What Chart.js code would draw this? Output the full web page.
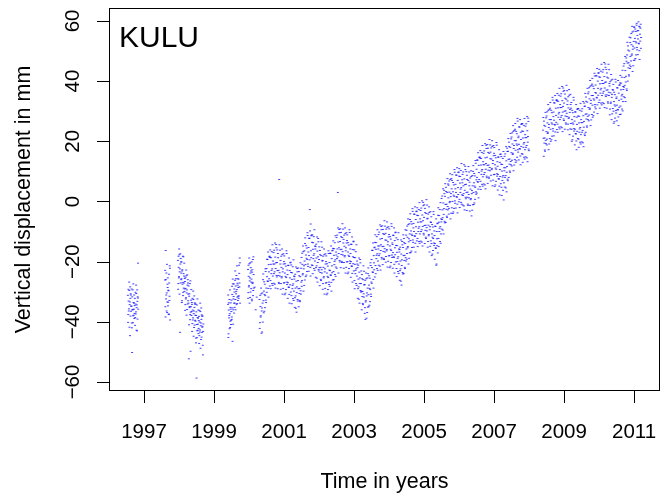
<!DOCTYPE html>
<html>
<head>
<meta charset="utf-8">
<script src="https://cdn.jsdelivr.net/npm/chart.js@4"></script>
<style>
  html, body { margin: 0; padding: 0; background: #fff; }
  #wrap { width: 662px; height: 496px; }
</style>
</head>
<body>
<div id="wrap"><canvas id="grafica" width="662" height="496"></canvas></div>
<script>
// tick labels
const xTicks = [1997, 1999, 2001, 2003, 2005, 2007, 2009, 2011];
const yTicks = [-60, -40, -20, 0, 20, 40, 60];

// GPS segments: first epoch (decimal year) and sampling interval (years)
const segStart = [1996.54, 1997.60, 1997.97, 1999.40, 1999.97, 2000.16,
  2000.30, 2004.00, 2008.40, 2000.30625, 2004.00625, 2008.40625,
  1996.545, 1997.605, 1997.975, 1999.405, 1999.975];
const segStep  = [0.01, 0.01, 0.01, 0.01, 0.01, 0.03,
  0.0125, 0.0125, 0.0125, 0.0125, 0.0125, 0.0125,
  0.01, 0.01, 0.01, 0.01, 0.01];

// vertical displacement in mm
const kulu1996 = [-31.2,-37.6,-33.1,-35.7,-29.6,-34.3,-44.6,-32.2,-30.7,-36.5,
  -34.8,-40.4,-50.2,-36.1,-29.4,-38.0,-33.6,-35.8,-31.1,-37.2,
  -32.2,-38.6,-34.1,-36.7,-30.6,-35.3,-43.0,-33.2,-31.7,-20.5];
const kulu1997 = [-26.1,-35.0,-16.3,-32.4,-23.8,-30.4,-36.9,-27.5,-25.4,-33.5,-29.7,-37.6,-27.1,-31.5,-22.2];
const kulu1998 = [-19.6,-27.3,-21.9,-25.0,-17.7,-23.4,-43.5,-20.8,-19.0,-26.0,
  -25.7,-33.6,-23.1,-27.5,-18.2,-30.2,-24.0,-27.1,-20.5,-29.1,
  -26.6,-34.3,-28.9,-32.0,-24.7,-30.4,-35.9,-27.8,-26.0,-33.0,
  -33.8,-52.3,-31.5,-35.3,-27.3,-37.6,-49.8,-35.0,-29.3,-36.6,
  -34.2,-40.6,-36.1,-38.7,-32.6,-37.3,-41.9,-35.2,-33.7,-39.5,
  -39.8,-45.4,-37.9,-58.7,-34.4,-43.0,-38.6,-40.8,-36.1,-42.2,
  -38.2,-44.6,-40.1,-42.7,-36.6,-41.3,-45.9,-39.2,-37.7,-43.5,
  -41.5,-47.8,-43.2];
const kulu1999 = [-34.2,-45.2,-36.1,-38.7,-32.6,-37.3,-41.9,-35.2,-33.7,-39.5,
  -32.8,-38.4,-30.9,-46.5,-27.4,-36.0,-31.6,-33.8,-29.1,-35.2,
  -26.2,-32.6,-28.1,-30.7,-24.6,-29.3,-33.9,-27.2,-25.7,-31.5,
  -25.8,-31.4,-23.9,-27.1,-20.4];
const kulu2000a = [-22.6,-30.3,-24.9,-28.0,-20.7,-26.4,-31.9,-23.8,-22.0,-29.0,-25.8,-32.5,-23.5,-27.3,-19.3,-29.6,-24.3];
const kulu2000b = [-28.5,-36.0,-31.8];
const kulu2000c = [
  -32.6,-40.3,-34.9,-38.0,-30.7,-36.4,-43.4,-33.8,
  -26.0,-33.0,-29.8,-36.5,-27.5,-31.3,-23.3,-33.6,
  -22.3,-25.0,-19.3,-26.6,-28.9,-21.0,-25.7,-18.2,
  -18.6,-26.3,-20.9,-24.0,-16.7,-22.4,-27.9,-19.8,
  -17.0,-24.0,-20.8,-27.5,-18.5,-22.3,-14.3,-24.6,
  -20.3,-23.0,-17.3,-24.6,-26.9,7.3,-23.7,-16.2,
  -19.6,-27.3,-21.9,-25.0,-17.7,-23.4,-28.9,-20.8,
  -20.0,-27.0,-23.8,-30.5,-21.5,-25.3,-17.3,-27.6,
  -24.3,-27.0,-21.3,-28.6,-30.9,-23.0,-27.7,-20.2,
  -23.6,-31.3,-25.9,-29.0,-21.7,-27.4,-32.9,-24.8,
  -25.0,-32.0,-28.8,-35.5,-26.5,-30.3,-22.3,-32.6,
  -26.3,-29.0,-23.3,-30.6,-32.9,-25.0,-29.7,-22.2,
  -18.6,-26.3,-20.9,-24.0,-16.7,-22.4,-27.9,-19.8,
  -14.0,-21.0,-17.8,-24.5,-15.5,-19.3,-11.3,-21.6,
  -15.3,-18.0,-12.3,-2.7,-21.9,-7.5,-18.7,-11.2,
  -13.6,-21.3,-15.9,-19.0,-11.7,-17.4,-22.9,-14.8,
  -15.0,-22.0,-18.8,-25.5,-16.5,-20.3,-12.3,-22.6,
  -19.3,-22.0,-16.3,-23.6,-25.9,-18.0,-22.7,-15.2,
  -19.6,-27.3,-21.9,-25.0,-17.7,-23.4,-28.9,-20.8,
  -20.0,-27.0,-23.8,-30.5,-21.5,-25.3,-17.3,-27.6,
  -20.3,-23.0,-17.3,-24.6,-26.9,-19.0,-23.7,-16.2,
  -15.6,-23.3,-17.9,-21.0,-13.7,-19.4,-24.9,-16.8,
  -12.0,-19.0,-15.8,3.0,-13.5,-17.3,-9.3,-19.6,
  -13.3,-16.0,-10.3,-17.6,-19.9,-12.0,-16.7,-9.2,
  -12.6,-20.3,-14.9,-18.0,-10.7,-16.4,-21.9,-13.8,
  -13.0,-20.0,-16.8,-23.5,-14.5,-18.3,-10.3,-20.6,
  -17.3,-20.0,-14.3,-21.6,-23.9,-16.0,-20.7,-13.2,
  -18.6,-26.3,-20.9,-24.0,-16.7,-22.4,-27.9,-19.8,
  -22.0,-29.0,-25.8,-32.5,-23.5,-27.3,-19.3,-29.6,
  -27.3,-30.0,-24.3,-31.6,-33.9,-26.0,-30.7,-23.2,
  -27.6,-35.3,-39.2,-33.0,-25.7,-31.4,-36.9,-28.8,
  -24.0,-31.0,-27.8,-34.5,-25.5,-29.3,-21.3,-31.6,
  -19.3,-22.0,-16.3,-23.6,-25.9,-18.0,-22.7,-15.2,
  -13.6,-21.3,-15.9,-19.0,-11.7,-17.4,-22.9,-14.8,
  -11.0,-18.0,-14.8,-21.5,-12.5,-16.3,-8.3,-18.6,
  -12.3,-15.0,-9.3,-16.6,-18.9,-11.0,-15.7,-8.2,
  -10.6,-18.3,-12.9,-16.0,-8.7,-14.4,-19.9,-11.8];
const kulu2004 = [
  -11.0,-18.0,-14.8,-21.5,-12.5,-16.3,-8.3,-18.6,
  -14.3,-17.0,-11.3,-18.6,-20.9,-13.0,-17.7,-10.2,
  -14.6,-22.3,-16.9,-20.0,-12.7,-18.4,-23.9,-15.8,
  -16.0,-23.0,-19.8,-26.5,-17.5,-21.3,-13.3,-23.6,
  -15.3,-18.0,-12.3,-19.6,-21.9,-14.0,-18.7,-11.2,
  -9.6,-17.3,-11.9,-15.0,-7.7,-13.4,-18.9,-10.8,
  -6.0,-13.0,-9.8,-16.5,-7.5,-11.3,-3.3,-13.6,
  -7.3,-10.0,-4.3,-11.6,-13.9,-6.0,-10.7,-3.2,
  -4.6,-12.3,-6.9,-10.0,-2.7,-8.4,-13.9,-5.8,
  -3.0,-10.0,-6.8,-13.5,-4.5,-8.3,-0.3,-10.6,
  -5.3,-8.0,-2.3,-9.6,-11.9,-4.0,-8.7,-1.2,
  -5.6,-13.3,-7.9,-11.0,-3.7,-9.4,-14.9,-6.8,
  -7.0,-14.0,-10.8,-17.5,-8.5,-12.3,-4.3,-14.6,
  -11.3,-14.0,-8.3,-15.6,-21.2,-10.0,-14.7,-7.2,
  -4.6,-12.3,-6.9,-10.0,-2.7,-8.4,-13.9,-5.8,
  1.0,-6.0,-2.8,-9.5,-0.5,-4.3,3.7,-6.6,
  1.7,-1.0,4.7,-2.6,-4.9,3.0,-1.7,5.8,
  5.4,-2.3,3.1,0.0,7.3,1.6,-3.9,4.2,
  7.0,0.0,3.2,-3.5,5.5,1.7,9.7,-0.6,
  5.7,3.0,8.7,1.4,-0.9,7.0,2.3,9.8,
  8.4,0.7,6.1,3.0,10.3,4.6,-0.9,7.2,
  9.0,2.0,5.2,-1.5,7.5,3.7,11.7,1.4,
  5.7,3.0,8.7,1.4,-0.9,7.0,2.3,9.8,
  6.4,-1.3,4.1,1.0,8.3,2.6,-2.9,5.2,
  10.0,3.0,6.2,-0.5,8.5,4.7,12.7,2.4,
  10.7,8.0,13.7,6.4,4.1,12.0,7.3,14.8,
  14.4,6.7,12.1,9.0,16.3,10.6,5.1,13.2,
  16.0,9.0,12.2,5.5,14.5,10.7,18.7,8.4,
  14.7,12.0,17.7,10.4,8.1,16.0,11.3,18.8,
  16.4,8.7,14.1,11.0,18.3,12.6,7.1,15.2,
  16.0,9.0,12.2,5.5,14.5,10.7,18.7,8.4,
  11.7,9.0,14.7,7.4,5.1,13.0,8.3,15.8,
  12.4,4.7,10.1,7.0,14.3,8.6,0.5,11.2,
  15.0,8.0,11.2,4.5,13.5,9.7,17.7,7.4,
  16.7,14.0,19.7,12.4,10.1,18.0,13.3,20.8,
  21.4,13.7,19.1,16.0,23.3,17.6,12.1,20.2,
  24.0,17.0,20.2,13.5,22.5,18.7,26.7,16.4,
  21.7,19.0,24.7,17.4,15.1,23.0,18.3,25.8,
  23.4,15.7,21.1,18.0,25.3,19.6,14.1,22.2,
  25.0,18.0,21.2,14.5,23.5,19.7,27.7,17.4];
const kulu2008 = [
  23.7,21.0,26.7,19.4,17.1,25.0,20.3,27.8,
  28.4,20.7,26.1,23.0,30.3,24.6,19.1,27.2,
  31.0,24.0,27.2,20.5,29.5,25.7,33.7,23.4,
  29.7,27.0,32.7,25.4,23.1,31.0,26.3,33.8,
  33.4,25.7,31.1,28.0,35.3,29.6,24.1,32.2,
  35.0,28.0,31.2,24.5,33.5,29.7,37.7,27.4,
  32.7,30.0,35.7,28.4,26.1,34.0,29.3,36.8,
  33.4,25.7,31.1,28.0,35.3,29.6,24.1,32.2,
  31.0,24.0,27.2,20.5,29.5,25.7,33.7,23.4,
  26.7,24.0,29.7,22.4,20.1,28.0,23.3,30.8,
  28.4,20.7,26.1,23.0,30.3,24.6,19.1,27.2,
  30.0,23.0,26.2,19.5,28.5,24.7,32.7,22.4,
  31.7,29.0,34.7,27.4,25.1,33.0,28.3,35.8,
  36.4,28.7,34.1,31.0,38.3,32.6,27.1,35.2,
  39.0,32.0,35.2,28.5,37.5,33.7,41.7,31.4,
  38.7,36.0,41.7,34.4,32.1,40.0,35.3,42.8,
  41.4,33.7,39.1,36.0,43.3,37.6,32.1,40.2,
  43.0,36.0,39.2,32.5,41.5,37.7,45.7,35.4,
  39.7,37.0,42.7,35.4,33.1,41.0,36.3,43.8,
  38.4,30.7,36.1,33.0,40.3,34.6,29.1,37.2,
  37.0,30.0,33.2,26.5,35.5,31.7,39.7,29.4,
  34.7,32.0,37.7,30.4,28.1,36.0,31.3,38.8,
  39.4,31.7,37.1,34.0,41.3,35.6,30.1,38.2,
  45.0,38.0,41.2,34.5,43.5,39.7,47.7,37.4,
  48.7,46.0,51.7,44.4,42.1,50.0,45.3,52.8,
  54.4,46.7,52.1,49.0,56.3,50.6,45.1,53.2,
  58.0,51.0,54.2,47.5,56.5,52.7,59.2,50.4,
  56.7,54.0,59.7,52.4,50.1,58.0,53.3,58.9,
  54.5];
// second daily track (interleaved epochs)
const kulu2000d = [
  -42.2,-31.2,-38.4,-28.8,-43.8,-35.4,-30.4,-40.1,
  -24.1,-37.0,-26.7,-30.9,-35.3,-22.4,-32.8,-28.8,
  -30.2,-19.2,-26.4,-16.8,-31.8,-23.4,-18.4,-28.1,
  -16.1,-29.0,-18.7,-22.9,-27.3,-14.4,-24.8,-20.8,
  -27.2,-16.2,-23.4,-13.8,-28.8,-20.4,-15.4,-25.1,
  -16.1,-29.0,-18.7,-22.9,-27.3,-14.4,-24.8,-20.8,
  -29.2,-18.2,-25.4,-15.8,-30.8,-22.4,-17.4,-27.1,
  -18.1,-31.0,-20.7,-24.9,-29.3,-16.4,-26.8,-22.8,
  -32.2,-21.2,-28.4,-18.8,-33.8,-25.4,-20.4,-30.1,
  -21.1,-34.0,-23.7,-27.9,-32.3,-19.4,-29.8,-25.8,
  -35.2,-24.2,-31.4,-21.8,-36.8,-28.4,-23.4,-33.1,
  -22.1,-35.0,-24.7,-28.9,-33.3,-20.4,-30.8,-26.8,
  -28.2,-17.2,-24.4,-14.8,-29.8,-21.4,-16.4,-26.1,
  -12.1,-25.0,-14.7,-18.9,-23.3,-10.4,-20.8,-16.8,
  -23.2,-12.2,-19.4,-9.8,-24.8,-16.4,-11.4,-21.1,
  -11.1,-24.0,-13.7,-17.9,-22.3,-9.4,-19.8,-15.8,
  -25.2,-14.2,-21.4,-11.8,-26.8,-18.4,-13.4,-23.1,
  -15.1,-28.0,-17.7,-21.9,-26.3,-13.4,-23.8,-19.8,
  -29.2,-18.2,-25.4,-15.8,-30.8,-22.4,-17.4,-27.1,
  -18.1,-31.0,-20.7,-24.9,-29.3,-16.4,-26.8,-22.8,
  -28.2,-17.2,-24.4,-14.8,-29.8,-21.4,-16.4,-26.1,
  -13.1,-26.0,-15.7,-19.9,-24.3,-11.4,-21.8,-17.8,
  -22.2,-11.2,-18.4,-8.8,-23.8,-15.4,-10.4,-20.1,
  -9.1,-22.0,-11.7,-15.9,-20.3,-7.4,-17.8,-13.8,
  -22.2,-11.2,-18.4,-8.8,-23.8,-15.4,-10.4,-20.1,
  -11.1,-24.0,-13.7,-17.9,-22.3,-9.4,-19.8,-15.8,
  -25.2,-14.2,-21.4,-11.8,-26.8,-18.4,-13.4,-23.1,
  -16.1,-29.0,-18.7,-22.9,-27.3,-14.4,-24.8,-20.8,
  -32.2,-21.2,-28.4,-18.8,-33.8,-25.4,-20.4,-30.1,
  -23.1,-36.0,-25.7,-29.9,-34.3,-21.4,-31.8,-27.8,
  -37.2,-26.2,-33.4,-23.8,-38.8,-30.4,-25.4,-35.1,
  -22.1,-35.0,-24.7,-28.9,-33.3,-20.4,-30.8,-26.8,
  -27.2,-16.2,-23.4,-13.8,-28.8,-20.4,-15.4,-25.1,
  -11.1,-24.0,-13.7,-17.9,-22.3,-9.4,-19.8,-15.8,
  -21.2,-10.2,-17.4,-7.8,-22.8,-14.4,-9.4,-19.1,
  -8.1,-21.0,-10.7,-14.9,-19.3,-6.4,-16.8,-12.8,
  -20.2,-9.2,-16.4,-6.8,-21.8,-13.4,-8.4,-18.1];
const kulu2004d = [
  -9.1,-22.0,-11.7,-15.9,-20.3,-7.4,-17.8,-13.8,
  -22.2,-11.2,-18.4,-8.8,-23.8,-15.4,-10.4,-20.1,
  -12.1,-25.0,-14.7,-18.9,-23.3,-10.4,-20.8,-16.8,
  -26.2,-15.2,-22.4,-12.8,-27.8,-19.4,-14.4,-24.1,
  -11.1,-24.0,-13.7,-17.9,-22.3,-9.4,-19.8,-15.8,
  -19.2,-8.2,-15.4,-5.8,-20.8,-12.4,-7.4,-17.1,
  -4.1,-17.0,-6.7,-10.9,-15.3,-2.4,-12.8,-8.8,
  -15.2,-4.2,-11.4,-1.8,-16.8,-8.4,-3.4,-13.1,
  -2.1,-15.0,-4.7,-8.9,-13.3,-0.4,-10.8,-6.8,
  -13.2,-2.2,-9.4,0.2,-14.8,-6.4,-1.4,-11.1,
  -1.1,-14.0,-3.7,-7.9,-12.3,0.6,-9.8,-5.8,
  -15.2,-4.2,-11.4,-1.8,-16.8,-8.4,-3.4,-13.1,
  -5.1,-18.0,-7.7,-11.9,-16.3,-3.4,-13.8,-9.8,
  -19.2,-8.2,-15.4,-5.8,-20.8,-12.4,-7.4,-17.1,
  -2.1,-15.0,-4.7,-8.9,-13.3,-0.4,-10.8,-6.8,
  -9.2,1.8,-5.4,4.2,-10.8,-2.4,2.6,-7.1,
  5.9,-7.0,3.3,-0.9,-5.3,7.6,-2.8,1.2,
  -4.2,6.8,-0.4,9.2,-5.8,2.6,7.6,-2.1,
  8.9,-4.0,6.3,2.1,-2.3,10.6,0.2,4.2,
  -2.2,8.8,1.6,11.2,-3.8,4.6,9.6,-0.1,
  10.9,-2.0,8.3,4.1,-0.3,12.6,2.2,6.2,
  -1.2,9.8,2.6,12.2,-2.8,5.6,10.6,0.9,
  9.9,-3.0,7.3,3.1,-1.3,11.6,1.2,5.2,
  -3.2,7.8,0.6,10.2,-4.8,3.6,8.6,-1.1,
  11.9,-1.0,9.3,5.1,0.7,13.6,3.2,7.2,
  2.8,13.8,6.6,16.2,1.2,9.6,14.6,4.9,
  16.9,4.0,14.3,10.1,5.7,18.6,8.2,12.2,
  5.8,16.8,9.6,19.2,4.2,12.6,17.6,7.9,
  18.9,6.0,16.3,12.1,7.7,20.6,10.2,14.2,
  6.8,17.8,10.6,20.2,5.2,13.6,18.6,8.9,
  17.9,5.0,15.3,11.1,6.7,19.6,9.2,13.2,
  3.8,14.8,7.6,17.2,2.2,10.6,15.6,5.9,
  14.9,2.0,12.3,8.1,3.7,16.6,6.2,10.2,
  4.8,15.8,8.6,18.2,3.2,11.6,16.6,6.9,
  20.9,8.0,18.3,14.1,9.7,22.6,12.2,16.2,
  11.8,22.8,15.6,25.2,10.2,18.6,23.6,13.9,
  25.9,13.0,23.3,19.1,14.7,27.6,17.2,21.2,
  13.8,24.8,17.6,27.2,12.2,20.6,25.6,15.9,
  25.9,13.0,23.3,19.1,14.7,27.6,17.2,21.2,
  14.8,25.8,18.6,28.2,13.2,21.6,26.6,16.9];
const kulu2008d = [
  27.9,15.0,25.3,21.1,16.7,29.6,19.2,23.2,
  18.8,29.8,22.6,32.2,17.2,25.6,30.6,20.9,
  32.9,20.0,30.3,26.1,21.7,34.6,24.2,28.2,
  21.8,32.8,25.6,35.2,20.2,28.6,33.6,23.9,
  35.9,23.0,33.3,29.1,24.7,37.6,27.2,31.2,
  24.8,35.8,28.6,38.2,23.2,31.6,36.6,26.9,
  36.9,24.0,34.3,30.1,25.7,38.6,28.2,32.2,
  23.8,34.8,27.6,37.2,22.2,30.6,35.6,25.9,
  32.9,20.0,30.3,26.1,21.7,34.6,24.2,28.2,
  18.8,29.8,22.6,32.2,17.2,25.6,30.6,20.9,
  30.9,18.0,28.3,24.1,19.7,32.6,22.2,26.2,
  19.8,30.8,23.6,33.2,18.2,26.6,31.6,21.9,
  35.9,23.0,33.3,29.1,24.7,37.6,27.2,31.2,
  26.8,37.8,30.6,40.2,25.2,33.6,38.6,28.9,
  40.9,28.0,38.3,34.1,29.7,42.6,32.2,36.2,
  30.8,41.8,34.6,44.2,29.2,37.6,42.6,32.9,
  43.9,31.0,41.3,37.1,32.7,45.6,35.2,39.2,
  32.8,43.8,36.6,46.2,31.2,39.6,44.6,34.9,
  43.9,31.0,41.3,37.1,32.7,45.6,35.2,39.2,
  28.8,39.8,32.6,42.2,27.2,35.6,40.6,30.9,
  38.9,26.0,36.3,32.1,27.7,40.6,30.2,34.2,
  26.8,37.8,30.6,40.2,25.2,33.6,38.6,28.9,
  41.9,29.0,39.3,35.1,30.7,43.6,33.2,37.2,
  34.8,45.8,38.6,48.2,33.2,41.6,46.6,36.9,
  52.9,40.0,50.3,46.1,41.7,54.6,44.2,48.2,
  44.8,55.8,48.6,58.2,43.2,51.6,56.6,46.9,
  57.9,47.0,57.3,53.1,48.7,58.6,51.2,55.2,
  48.8,56.8,52.6,58.2,47.2,55.6,57.6,50.9];
const kulu1996d = [-40.2,-29.2,-36.4,-26.8,-41.8,-33.4,-28.4,-38.1,-31.1,-34.8,
  -29.1,-42.0,-31.7,-35.9,-40.3,-27.4,-37.8,-33.8,-38.9,-34.6,
  -41.2,-30.2,-37.4,-27.8,-42.8,-34.4,-29.4,-39.1,-32.1,-35.8];
const kulu1997d = [-22.9,-38.4,-26.0,-31.1,-36.4,-20.9,-33.4,-28.6,-34.7,-29.5,-37.4,-24.2,-32.9,-21.4,-39.4];
const kulu1998d = [-29.2,-18.2,-25.4,-15.8,-30.8,-22.4,-17.4,-27.1,-20.1,-23.8,
  -20.1,-33.0,-22.7,-26.9,-31.3,-18.4,-28.8,-24.8,-29.9,-25.6,
  -36.2,-25.2,-32.4,-22.8,-37.8,-29.4,-24.4,-34.1,-27.1,-30.8,
  -28.1,-41.0,-30.7,-34.9,-39.3,-26.4,-36.8,-32.8,-37.9,-33.6,
  -43.2,-32.2,-39.4,-29.8,-44.8,-36.4,-31.4,-41.1,-34.1,-37.8,
  -34.1,-47.0,-36.7,-40.9,-45.3,-32.4,-42.8,-38.8,-43.9,-39.6,
  -47.2,-36.2,-43.4,-33.8,-48.8,-40.4,-35.4,-45.1,-38.1,-41.8,
  -38.1,-51.0,-40.7];
const kulu1999d = [-31.1,-44.0,-33.7,-37.9,-42.3,-29.4,-39.8,-35.8,-40.9,-36.6,
  -39.2,-28.2,-35.4,-25.8,-40.8,-32.4,-27.4,-37.1,-30.1,-33.8,
  -23.1,-36.0,-25.7,-29.9,-34.3,-21.4,-31.8,-27.8,-32.9,-28.6,
  -32.2,-21.2,-28.4,-18.8,-33.8];
const kulu2000e = [-32.2,-21.2,-28.4,-18.8,-33.8,-25.4,-20.4,-30.1,-23.1,-26.8,
  -20.1,-33.0,-22.7,-26.9,-31.3,-18.4,-28.8];

const segValues = [kulu1996, kulu1997, kulu1998, kulu1999, kulu2000a, kulu2000b,
  kulu2000c, kulu2004, kulu2008, kulu2000d, kulu2004d, kulu2008d,
  kulu1996d, kulu1997d, kulu1998d, kulu1999d, kulu2000e];

// armar los puntos (tiempo, desplazamiento)
const puntos = [];
for (let s = 0; s < segValues.length; s++) {
  for (let i = 0; i < segValues[s].length; i++) {
    puntos.push({ x: segStart[s] + i * segStep[s], y: segValues[s][i] });
  }
}

const FONT = '"Liberation Sans", Arial, Helvetica, sans-serif';
const minus = (v) => (v < 0 ? '\u2212' + Math.abs(v) : String(v));

// ejes al estilo R: caja, marcas hacia afuera y textos
const ejesR = {
  id: 'ejesR',
  afterDraw(chart) {
    const ctx = chart.ctx;
    const a = chart.chartArea;
    const xs = chart.scales.x;
    const ys = chart.scales.y;
    ctx.save();
    ctx.strokeStyle = '#000';
    ctx.lineWidth = 1;
    ctx.strokeRect(Math.round(a.left) + 0.5, Math.round(a.top) + 0.5,
      Math.round(a.right - a.left) - 1, Math.round(a.bottom - a.top) - 1);

    ctx.fillStyle = '#000';
    ctx.font = '20.5px ' + FONT;
    ctx.beginPath();
    xTicks.forEach(v => {
      const px = Math.round(xs.getPixelForValue(v)) + 0.5;
      ctx.moveTo(px, a.bottom);
      ctx.lineTo(px, a.bottom + 12);
    });
    yTicks.forEach(v => {
      const py = Math.round(ys.getPixelForValue(v)) + 0.5;
      ctx.moveTo(a.left, py);
      ctx.lineTo(a.left - 12, py);
    });
    ctx.stroke();

    ctx.textAlign = 'center';
    ctx.textBaseline = 'alphabetic';
    xTicks.forEach(v => {
      ctx.fillText(String(v), xs.getPixelForValue(v), a.bottom + 47);
    });
    yTicks.forEach(v => {
      ctx.save();
      ctx.translate(a.left - 30, ys.getPixelForValue(v));
      ctx.rotate(-Math.PI / 2);
      ctx.fillText(minus(v), 0, 0);
      ctx.restore();
    });

    ctx.font = '21.5px ' + FONT;
    ctx.fillText('Time in years', (a.left + a.right) / 2, 488);
    ctx.save();
    ctx.translate(30, (a.top + a.bottom) / 2);
    ctx.rotate(-Math.PI / 2);
    ctx.fillText('Vertical displacement in mm', 0, 0);
    ctx.restore();

    ctx.textAlign = 'left';
    ctx.font = '30px ' + FONT;
    ctx.fillText('KULU', a.left + 10, 47);
    ctx.restore();
  }
};

new Chart(document.getElementById('grafica'), {
  type: 'scatter',
  data: {
    datasets: [{
      data: puntos,
      pointStyle: 'line',
      pointRadius: 1,
      pointHoverRadius: 1,
      borderWidth: 1,
      borderColor: 'rgba(0,0,255,0.75)'
    }]
  },
  options: {
    responsive: false,
    animation: false,
    events: [],
    layout: { padding: { left: 109, top: 8, right: 1, bottom: 105 } },
    plugins: { legend: { display: false }, tooltip: { enabled: false } },
    scales: {
      x: { type: 'linear', min: 1996.0, max: 2011.74, display: false },
      y: { type: 'linear', min: -63.0, max: 64.3, display: false }
    }
  },
  plugins: [ejesR]
});
</script>
</body>
</html>
